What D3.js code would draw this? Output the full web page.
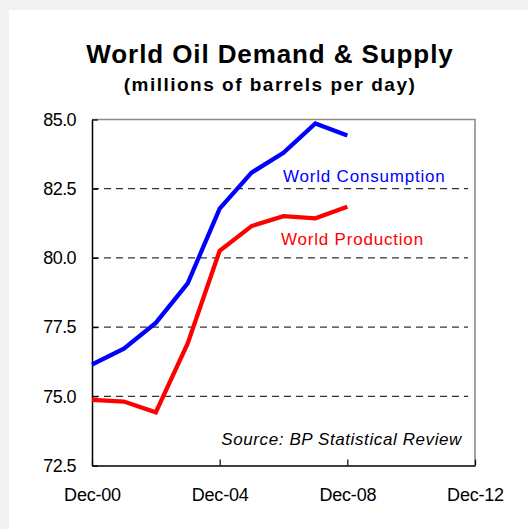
<!DOCTYPE html>
<html>
<head>
<meta charset="utf-8">
<script src="https://cdn.jsdelivr.net/npm/d3@7"></script>
<style>
  html, body { margin: 0; padding: 0; background: #f2f2f2; }
  svg { display: block; font-family: "Liberation Sans", Arial, sans-serif; }
</style>
</head>
<body>
<svg id="chart"></svg>
<script>
// yearly values, Dec-00 .. Dec-08
let years = [2000, 2001, 2002, 2003, 2004, 2005, 2006, 2007, 2008]
let consumption = [76.15, 76.72, 77.65, 79.08, 81.78, 83.08, 83.8, 84.86, 84.42]
let production = [74.87, 74.81, 74.42, 76.91, 80.26, 81.15, 81.51, 81.43, 81.85]

let yTicks = [72.5, 75.0, 77.5, 80.0, 82.5, 85.0]
let xTickYears = [2000, 2004, 2008, 2012]

let width = 528
let height = 529
let plot = {left: 92, right: 475, top: 119.5, bottom: 465.5}

let svg = d3.select('#chart')
    .attr('width', width)
    .attr('height', height)

// white panel on grey page
svg.append('rect')
    .attr('x', 9).attr('y', 10)
    .attr('width', width - 9).attr('height', height - 10)
    .attr('fill', '#ffffff')

let dec = (y) => new Date(y, 11, 1)

let xScale = d3.scaleTime()
    .domain([dec(2000), dec(2012)])
    .range([plot.left, plot.right])

let yScale = d3.scaleLinear()
    .domain([72.5, 85])
    .range([plot.bottom, plot.top])

// titles
svg.append('text')
    .attr('x', 270).attr('y', 63)
    .attr('text-anchor', 'middle')
    .style('font-size', '26px').style('font-weight', 'bold')
    .style('letter-spacing', '0.9px')
    .text('World Oil Demand & Supply')

svg.append('text')
    .attr('x', 270).attr('y', 91)
    .attr('text-anchor', 'middle')
    .style('font-size', '19px').style('font-weight', 'bold')
    .style('letter-spacing', '1.5px')
    .text('(millions of barrels per day)')

// dashed gridlines
svg.append('g')
    .selectAll('line')
    .data(yTicks.filter(d => d > 72.5 && d < 85))
    .enter()
    .append('line')
    .attr('x1', plot.left)
    .attr('x2', plot.right - 7)
    .attr('y1', d => yScale(d))
    .attr('y2', d => yScale(d))
    .attr('stroke', '#000')
    .attr('stroke-width', 1)
    .attr('stroke-dasharray', '7,5')

// frame: top and right in grey
svg.append('path')
    .attr('d', `M${plot.left},${plot.top}H${plot.right}V${plot.bottom}`)
    .attr('fill', 'none')
    .attr('stroke', '#8c8c8c')
    .attr('stroke-width', 1.6)

// axes
let xAxis = d3.axisBottom(xScale)
    .tickValues(xTickYears.map(dec))
    .tickSizeInner(-6)
    .tickSizeOuter(0)
    .tickPadding(0)
    .tickFormat(d3.timeFormat('Dec-%y'))

let gx = svg.append('g')
    .attr('transform', 'translate(0,' + plot.bottom + ')')
    .call(xAxis)
gx.select('.domain').attr('stroke', '#000').attr('stroke-width', 1.5)
gx.selectAll('.tick line').attr('stroke', '#000').attr('stroke-width', 1.2)
gx.selectAll('.tick text')
    .attr('y', 35)
    .attr('dy', 0)
    .style('font-size', '18px')
    .style('letter-spacing', '-0.2px')
    .style('font-family', '"Liberation Sans", Arial, sans-serif')
    .attr('fill', '#000')

let yAxis = d3.axisLeft(yScale)
    .tickValues(yTicks)
    .tickSizeInner(-6)
    .tickSizeOuter(0)
    .tickPadding(0)
    .tickFormat(d3.format('.1f'))

let gy = svg.append('g')
    .attr('transform', 'translate(' + plot.left + ',0)')
    .call(yAxis)
gy.select('.domain').attr('stroke', '#000').attr('stroke-width', 1.5)
gy.selectAll('.tick line').attr('stroke', '#000').attr('stroke-width', 1.2)
gy.selectAll('.tick text')
    .attr('x', -16)
    .style('font-size', '18px')
    .style('letter-spacing', '-0.6px')
    .style('font-family', '"Liberation Sans", Arial, sans-serif')
    .attr('fill', '#000')

// lines
let line = d3.line()
    .x((d, i) => xScale(dec(years[i])))
    .y(d => yScale(d))

svg.append('path')
    .datum(production)
    .attr('d', line)
    .attr('fill', 'none')
    .attr('stroke', '#ff0000')
    .attr('stroke-width', 4.3)
    .attr('stroke-linejoin', 'miter')

svg.append('path')
    .datum(consumption)
    .attr('d', line)
    .attr('fill', 'none')
    .attr('stroke', '#0000ff')
    .attr('stroke-width', 4.3)
    .attr('stroke-linejoin', 'miter')

// series labels
svg.append('text')
    .attr('x', 283).attr('y', 182)
    .attr('fill', '#0000ff')
    .style('font-size', '17px')
    .style('letter-spacing', '0.8px')
    .text('World Consumption')

svg.append('text')
    .attr('x', 281).attr('y', 245)
    .attr('fill', '#ff0000')
    .style('font-size', '17px')
    .style('letter-spacing', '0.8px')
    .text('World Production')

// source note
svg.append('text')
    .attr('x', 462).attr('y', 445)
    .attr('text-anchor', 'end')
    .style('font-size', '17px')
    .style('font-style', 'italic')
    .style('letter-spacing', '0.6px')
    .text('Source: BP Statistical Review')
</script>
</body>
</html>
